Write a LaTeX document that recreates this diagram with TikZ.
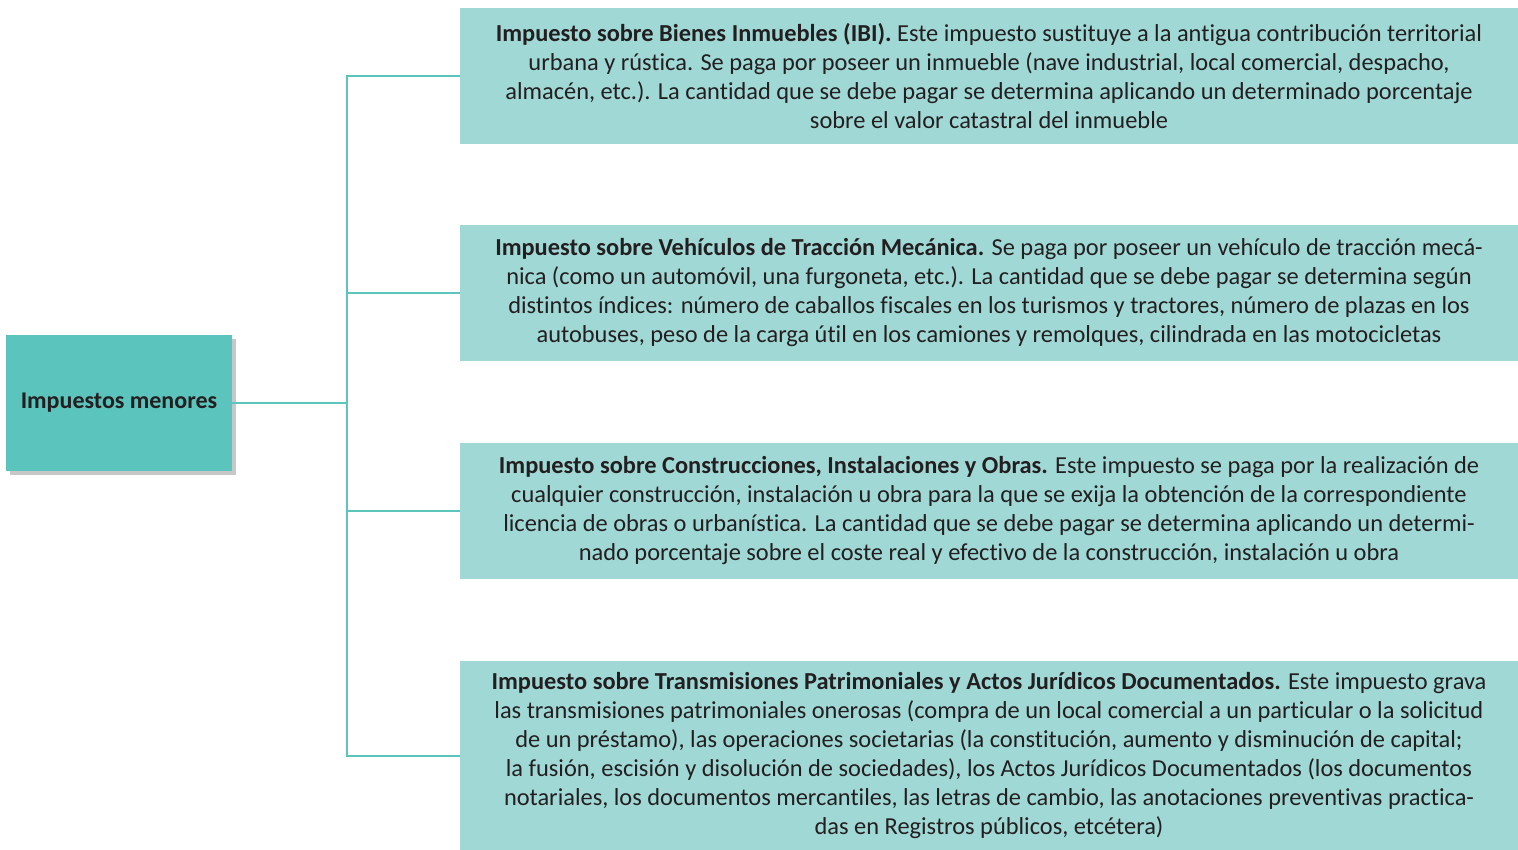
\documentclass[tikz,border=0pt]{standalone}
\usepackage{fontspec}
\setmainfont{Carlito}[Ligatures=NoCommon]
\usetikzlibrary{positioning, shadows}
\definecolor{TealMain}{HTML}{5BC4BC}
\definecolor{TealLight}{HTML}{A0D8D5}
\definecolor{DarkText}{HTML}{231F20}

\begin{document}
\begin{tikzpicture}[x=1pt, y=-1pt,
    mainbox/.style={fill=TealMain, minimum width=226pt, minimum height=136pt,
      inner sep=0pt, text=DarkText,
      drop shadow={shadow xshift=4pt, shadow yshift=-4pt, fill=black, opacity=0.22}},
    taxbox/.style={fill=TealLight, minimum width=1058pt, minimum height=136pt,
      inner sep=0pt, align=center, text=DarkText},
    link/.style={draw=TealMain, line width=2.8pt}]
  \useasboundingbox (0,0) rectangle (1518,850);

  % main node
  \node[mainbox, font=\fontsize{24}{29}\selectfont\bfseries] (menores) at (119,403) {\raisebox{-3pt}{Impuestos menores}};

  % the four taxes
  \node[taxbox, font=\fontsize{24.4}{29}\selectfont] (ibi) at (989,76) {%
    \textbf{Impuesto sobre Bienes Inmuebles (IBI).} Este impuesto sustituye a la antigua contribución territorial\\
    urbana y rústica. Se paga por poseer un inmueble (nave industrial, local comercial, despacho,\\
    almacén, etc.). La cantidad que se debe pagar se determina aplicando un determinado porcentaje\\
    sobre el valor catastral del inmueble};
  \node[taxbox, font=\fontsize{24.4}{29}\selectfont] (ivtm) at (989,293) {%
    \textbf{Impuesto sobre Vehículos de Tracción Mecánica.} Se paga por poseer un vehículo de tracción mecá-\\
    nica (como un automóvil, una furgoneta, etc.). La cantidad que se debe pagar se determina según\\
    distintos índices: número de caballos fiscales en los turismos y tractores, número de plazas en los\\
    autobuses, peso de la carga útil en los camiones y remolques, cilindrada en las motocicletas};
  \node[taxbox, font=\fontsize{24.4}{29}\selectfont] (icio) at (989,511) {%
    \textbf{Impuesto sobre Construcciones, Instalaciones y Obras.} Este impuesto se paga por la realización de\\
    cualquier construcción, instalación u obra para la que se exija la obtención de la correspondiente\\
    licencia de obras o urbanística. La cantidad que se debe pagar se determina aplicando un determi-\\
    nado porcentaje sobre el coste real y efectivo de la construcción, instalación u obra};
  \node[taxbox, minimum height=190pt, font=\fontsize{24.4}{29}\selectfont] (itpajd) at (989,756) {%
    \textbf{Impuesto sobre Transmisiones Patrimoniales y Actos Jurídicos Documentados.} Este impuesto grava\\
    las transmisiones patrimoniales onerosas (compra de un local comercial a un particular o la solicitud\\
    de un préstamo), las operaciones societarias (la constitución, aumento y disminución de capital;\\
    la fusión, escisión y disolución de sociedades), los Actos Jurídicos Documentados (los documentos\\
    notariales, los documentos mercantiles, las letras de cambio, las anotaciones preventivas practica-\\
    das en Registros públicos, etcétera)};

  % connectors
  \coordinate (trunk) at (347,0);
  \draw[link] (ibi.west) -- (ibi.west -| trunk) -- (itpajd.west -| trunk) -- (itpajd.west);
  \draw[link] (ivtm.west) -- (ivtm.west -| trunk);
  \draw[link] (icio.west) -- (icio.west -| trunk);
  \draw[link] (menores.east) -- (menores.east -| trunk);
\end{tikzpicture}
\end{document}
